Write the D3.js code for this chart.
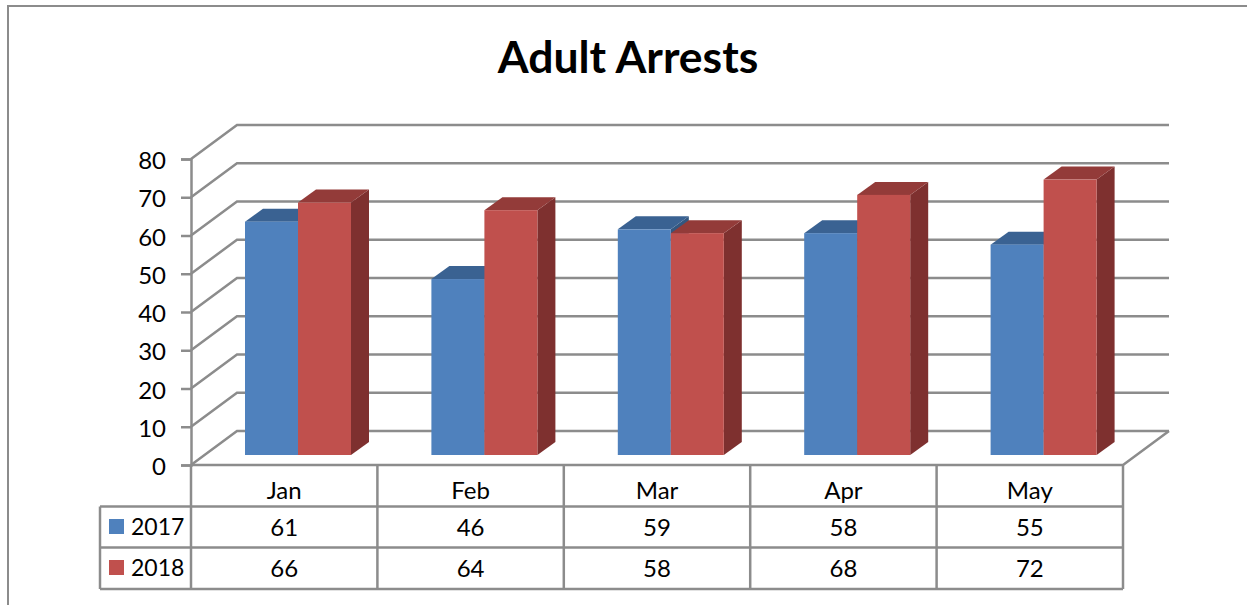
<!DOCTYPE html>
<html>
<head>
<meta charset="utf-8">
<script src="https://cdn.jsdelivr.net/npm/d3@7"></script>
<style>
  html, body { margin: 0; padding: 0; background: #fff; overflow: hidden; }
  svg { display: block; }
  text { font-family: Lato, "Open Sans", sans-serif; fill: #000; }
</style>
</head>
<body>
<div id="chart"></div>
<script>
const months = ["Jan", "Feb", "Mar", "Apr", "May"];
const series = ["2017", "2018"];
const values2017 = [61, 46, 59, 58, 55];
const values2018 = [66, 64, 58, 68, 72];
const yTicks = [0, 10, 20, 30, 40, 50, 60, 70, 80];

const width = 1247, height = 605;
const gray = "#8c8c8c";
const lineW = 2.5;

const svg = d3.select("#chart").append("svg")
  .attr("width", width)
  .attr("height", height);

// outer frame, cropped on the right and bottom
svg.append("path")
  .attr("d", "M8,605V6H1247")
  .attr("fill", "none").attr("stroke", gray).attr("stroke-width", 2);

svg.append("text")
  .attr("x", 628).attr("y", 73)
  .attr("text-anchor", "middle")
  .attr("font-size", 44.5).attr("font-weight", 700)
  .text("Adult Arrests");

// --- scales ---
const x = d3.scaleBand().domain(months).range([191, 1123]);
const y = d3.scaleLinear().domain([0, 80]).range([465, 159]);
const barH = d3.scaleLinear().domain([0, 80]).range([0, 306]);

// wall depth and bar depth
const depth = { x: 46, y: -34 };
const barDepth = { x: 18, y: -13 };
const barBase = 455, barW = 53, barInset = 54;

// --- walls ---
const grid = svg.append("g").attr("fill", "none").attr("stroke", gray).attr("stroke-width", lineW);
yTicks.forEach(t => {
  grid.append("path")
    .attr("d", `M191,${y(t)}L${191 + depth.x},${y(t) + depth.y}H${1123 + depth.x}`);
});
grid.append("path")
  .attr("d", `M191,${y(0)}H1123L${1123 + depth.x},${y(0) + depth.y}`);

// --- y axis ---
const axis = svg.append("g")
  .attr("transform", "translate(191,0)")
  .call(d3.axisLeft(y).tickValues(yTicks).tickSize(10).tickPadding(15));
axis.selectAll("path, line").attr("stroke", gray).attr("stroke-width", lineW);
axis.selectAll("text")
  .attr("font-size", 24)
  .attr("dy", "0.4em")
  .style("font-family", "Lato, 'Open Sans', sans-serif")
  .style("fill", "#000");

// --- bars ---
const colors = {
  "2017": { front: "#4f81bd", top: "#3a6292", side: "#335780" },
  "2018": { front: "#c0504d", top: "#933b39", side: "#7e302f" }
};
const rows = [values2017, values2018];

months.forEach((m, i) => {
  series.forEach((s, j) => {
    const v = rows[j][i];
    const x0 = x(m) + barInset + j * barW;
    const x1 = x0 + barW;
    const top = barBase - barH(v);
    const g = svg.append("g");
    g.append("path") // side
      .attr("fill", colors[s].side)
      .attr("d", `M${x1},${barBase}L${x1 + barDepth.x},${barBase + barDepth.y}V${top + barDepth.y}L${x1},${top}Z`);
    g.append("path") // top
      .attr("fill", colors[s].top)
      .attr("d", `M${x0},${top}L${x0 + barDepth.x},${top + barDepth.y}H${x1 + barDepth.x}L${x1},${top}Z`);
    g.append("rect") // front
      .attr("fill", colors[s].front)
      .attr("x", x0).attr("y", top)
      .attr("width", barW).attr("height", barH(v));
  });
});

// --- data table ---
const rowY = [465, 506.5, 547.5, 589];
const tableLeft = 100;
const table = svg.append("g").attr("fill", "none").attr("stroke", gray).attr("stroke-width", lineW);
rowY.slice(1).forEach(ry => {
  table.append("path").attr("d", `M${tableLeft},${ry}H1123`);
});
table.append("path").attr("d", `M${tableLeft},${rowY[1]}V${rowY[3]}`);
months.forEach(m => {
  table.append("path").attr("d", `M${x(m)},${rowY[0]}V${rowY[3]}`);
});
table.append("path").attr("d", `M1123,${rowY[0]}V${rowY[3]}`);

const cellFont = 24;
months.forEach((m, i) => {
  const cx = x(m) + x.bandwidth() / 2;
  svg.append("text")
    .attr("x", cx).attr("y", 499)
    .attr("text-anchor", "middle").attr("font-size", cellFont)
    .text(m);
  series.forEach((s, j) => {
    svg.append("text")
      .attr("x", cx).attr("y", rowY[j + 1] + 29)
      .attr("text-anchor", "middle").attr("font-size", cellFont)
      .text(rows[j][i]);
  });
});

series.forEach((s, j) => {
  svg.append("rect")
    .attr("x", 109).attr("y", rowY[j + 1] + 12.5)
    .attr("width", 15).attr("height", 15)
    .attr("fill", colors[s].front);
  svg.append("text")
    .attr("x", 131).attr("y", rowY[j + 1] + 28)
    .attr("font-size", 23)
    .text(s);
});
</script>
</body>
</html>
